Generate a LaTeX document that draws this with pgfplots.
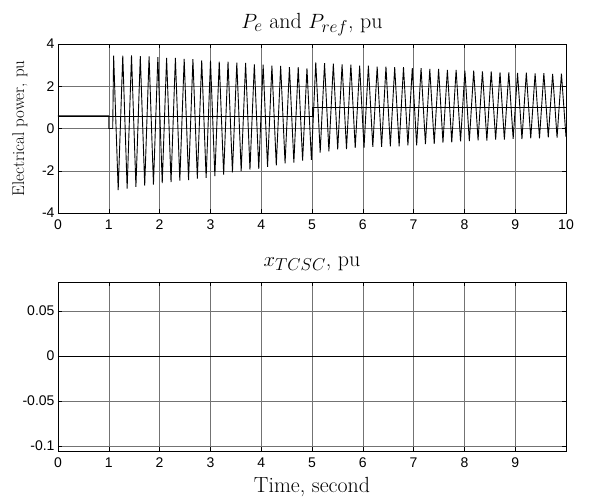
\documentclass[border=0pt]{standalone}
\usepackage{fontspec}
\usepackage{pgfplots}
\pgfplotsset{compat=1.18}
\newfontfamily\arial{Liberation Sans}
\DeclareMathSizes{22}{22}{17.5}{13}
\begin{document}
\begin{tikzpicture}
\pgfplotsset{
  mystyle/.style={
    scale only axis, width=508bp, height=169bp,
    xmin=0, xmax=10,
    tick align=inside, major tick length=4bp,
    tick style={black, line width=0.5bp},
    axis line style={black, line width=0.8bp},
    grid=major,
    major grid style={black!55, line width=0.45bp},
    ticklabel style={font=\arial\fontsize{14bp}{16bp}\selectfont},
    xticklabel style={yshift=-3bp},
    /pgf/number format/assume math mode=true,
    scaled ticks=false,
    title style={font=\fontsize{22}{24}\selectfont, at={(axis description cs:0.5,1)}, anchor=base, yshift=10bp},
  }
}
\begin{axis}[mystyle, at={(0,-169bp)}, anchor=south west,
  ymin=-4, ymax=4,
  xtick={0,1,2,3,4,5,6,7,8,9,10},
  xticklabels={0,1,2,3,4,5,6,7,8,9,10},
  ytick={-4,-2,0,2,4},
  yticklabels={-4,-2,0,2,4},
  title={$P_e$ and $P_{ref}$, pu},
  ylabel={Electrical power, pu},
  ylabel style={font=\fontsize{17bp}{19bp}\selectfont, at={(axis description cs:-0.075,0.5)}, anchor=center},
]
\addplot[black, line width=0.6bp] coordinates {
(0,0.6) (5,0.6) (5,1.0) (10,1.0)
};
\addplot[black, line width=0.9bp] coordinates {
(0,0.6) (1.0,0.6) (1.0,0.0) (1.077,0.0)
(1.095,3.45) (1.185,-2.92)
(1.275,3.45) (1.361,-2.84)
(1.447,3.46) (1.534,-2.76)
(1.620,3.42) (1.707,-2.70)
(1.793,3.41) (1.879,-2.65)
(1.966,3.38) (2.052,-2.58)
(2.138,3.34) (2.225,-2.54)
(2.311,3.34) (2.398,-2.47)
(2.484,3.29) (2.570,-2.44)
(2.656,3.28) (2.743,-2.37)
(2.829,3.22) (2.916,-2.34)
(3.002,3.21) (3.088,-2.25)
(3.174,3.17) (3.261,-2.18)
(3.347,3.16) (3.434,-2.07)
(3.520,3.12) (3.606,-2.02)
(3.693,3.10) (3.779,-1.94)
(3.865,3.04) (3.952,-1.91)
(4.038,3.02) (4.125,-1.81)
(4.211,2.97) (4.297,-1.75)
(4.383,2.96) (4.470,-1.65)
(4.556,2.91) (4.643,-1.61)
(4.729,2.90) (4.815,-1.52)
(4.901,2.85) (4.988,-1.48)
(5.074,3.13) (5.161,-1.14)
(5.247,3.09) (5.333,-1.08)
(5.420,3.07) (5.506,-0.99)
(5.592,3.03) (5.679,-0.97)
(5.765,3.02) (5.851,-0.92)
(5.938,2.97) (6.024,-0.91)
(6.110,2.97) (6.197,-0.87)
(6.283,2.93) (6.370,-0.87)
(6.456,2.93) (6.542,-0.84)
(6.628,2.90) (6.715,-0.84)
(6.801,2.90) (6.888,-0.80)
(6.974,2.86) (7.060,-0.80)
(7.147,2.86) (7.233,-0.74)
(7.319,2.82) (7.406,-0.73)
(7.492,2.82) (7.578,-0.67)
(7.665,2.78) (7.751,-0.66)
(7.837,2.78) (7.924,-0.61)
(8.010,2.74) (8.097,-0.60)
(8.183,2.74) (8.269,-0.56)
(8.355,2.70) (8.442,-0.57)
(8.528,2.70) (8.615,-0.53)
(8.701,2.66) (8.787,-0.53)
(8.874,2.66) (8.960,-0.49)
(9.046,2.63) (9.133,-0.50)
(9.219,2.64) (9.306,-0.46)
(9.392,2.61) (9.478,-0.46)
(9.564,2.62) (9.651,-0.42)
(9.737,2.59) (9.824,-0.43)
(9.910,2.60) (10.0,-0.40)
};
\end{axis}
\begin{axis}[mystyle, at={(0,-407bp)}, anchor=south west,
  ymin=-0.1056, ymax=0.0822,
  xtick={0,1,2,3,4,5,6,7,8,9},
  xticklabels={0,1,2,3,4,5,6,7,8,9},
  ytick={-0.1,-0.05,0,0.05},
  yticklabels={-0.1,-0.05,0,0.05},
  title={$x_{TCSC}$, pu},
  xlabel={Time, second},
  xlabel style={font=\fontsize{22}{24}\selectfont, at={(axis description cs:0.5,0)}, anchor=base, yshift=-41bp},
]
\addplot[black, line width=0.7bp] coordinates {(0,0) (10,0)};
\end{axis}
\pgfresetboundingbox
\path[use as bounding box] (-58bp,44bp) rectangle (532bp,-456bp);
\end{tikzpicture}
\end{document}
